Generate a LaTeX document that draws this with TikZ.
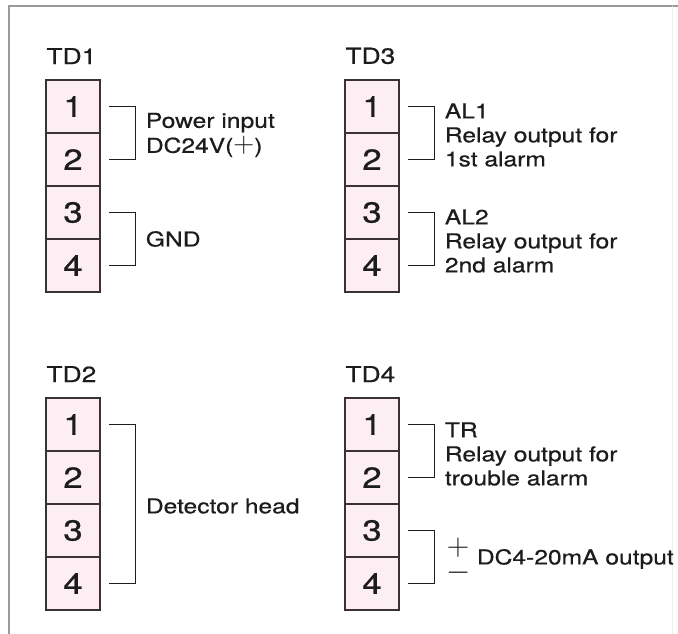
\documentclass[tikz,border=0pt]{standalone}
\usepackage{fontspec}
\setmainfont{TeX Gyre Heros}[FakeStretch=1.2, FakeBold=0.6]
\usetikzlibrary{positioning,calc}
\definecolor{cellfill}{HTML}{FCEEF3}
\definecolor{cellline}{HTML}{3A3236}
\definecolor{framegray}{HTML}{9A9A9A}
\definecolor{ink}{HTML}{1C1C1C}

\tikzset{
  cell/.style={draw=cellline, fill=cellfill, line width=1.4pt,
    minimum width=54pt, minimum height=53pt, inner sep=0pt,
    text=ink, font=\fontsize{29}{30}\selectfont},
  title/.style={inner sep=0pt, text=ink, font=\fontsize{22}{24}\selectfont},
  lbl/.style={inner sep=0pt, align=left, text=ink,
    font=\fontsize{20.5}{24}\selectfont},
  bracket/.style={draw=ink, line width=1.2pt},
}

% terminal block: name, left x, top y
\newcommand{\tblock}[3]{%
  \foreach \k in {1,...,4}
    \node[cell] (#1-\k) at ({#2+27}, {#3+26.5+53*(\k-1)}) {\k};
}
% bracket: first cell, last cell, name of its middle point
\newcommand{\tbracket}[3]{%
  \draw[bracket] ($(#1.east)+(8,0)$) -- ++(27,0)
    |- ($(#2.east)+(8,0)$) coordinate[pos=0.25] (#3);
}
\newcommand{\bigplus}{\smash{\scalebox{1.4}{$+$}}}

\begin{document}
\begin{tikzpicture}[x=1pt, y=-1pt]
  \useasboundingbox (0,0) rectangle (678,634);

  % Frame
  \draw[framegray, line width=1.8pt] (9,634) -- (9,6) -- (678,6);
  \draw[black!7, line width=1pt] (672,6) -- (672,634);

  % Terminal blocks
  \tblock{td1}{46}{80}
  \tblock{td3}{345}{80}
  \tblock{td2}{46}{398}
  \tblock{td4}{345}{398}

  % Titles
  \node[title, above=15pt of td1-1.north west, anchor=south west, xshift=1pt] (td1) {TD1};
  \node[title, above=15pt of td3-1.north west, anchor=south west, xshift=1pt] (td3) {TD3};
  \node[title, above=15pt of td2-1.north west, anchor=south west, xshift=1pt] (td2) {TD2};
  \node[title, above=15pt of td4-1.north west, anchor=south west, xshift=1pt] (td4) {TD4};

  % TD1
  \tbracket{td1-1}{td1-2}{m11}
  \node[lbl, right=10pt of m11, yshift=-2pt] (pwr) {Power input\\[1pt]DC24V(\bigplus)};
  \tbracket{td1-3}{td1-4}{m12}
  \node[lbl, right=10pt of m12] (gnd) {GND};

  % TD3
  \tbracket{td3-1}{td3-2}{m31}
  \node[lbl, right=10pt of m31, yshift=-2pt] (al1) {AL1\\Relay output for\\1st alarm};
  \tbracket{td3-3}{td3-4}{m32}
  \node[lbl, right=10pt of m32, yshift=-2pt] (al2) {AL2\\Relay output for\\2nd alarm};

  % TD2
  \tbracket{td2-1}{td2-4}{m21}
  \node[lbl, right=10pt of m21, yshift=-2pt] (det) {Detector head};

  % TD4
  \tbracket{td4-1}{td4-2}{m41}
  \node[lbl, right=10pt of m41, yshift=-3pt] (tr) {TR\\Relay output for\\trouble alarm};
  \tbracket{td4-3}{td4-4}{m42}
  \node[lbl, right=12pt of m42, yshift=9pt] (plus) {\scalebox{1.5}{$+$}};
  \node[lbl, right=12pt of m42, yshift=-16pt] (minus) {\scalebox{1.5}{$-$}};
  \node[lbl, right=42pt of m42, yshift=-2pt] (ma) {DC4-20mA output};
\end{tikzpicture}
\end{document}
